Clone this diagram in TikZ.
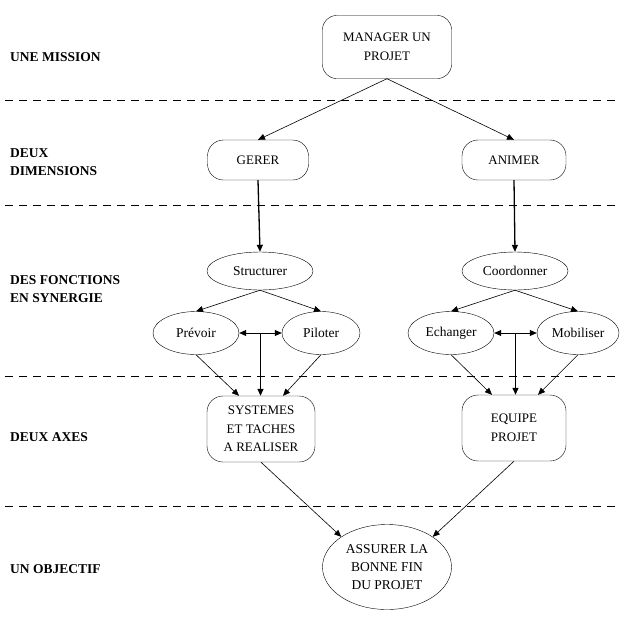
\documentclass[tikz,border=0pt]{standalone}
\usepackage{fontspec}
\setmainfont{Liberation Serif}
\usetikzlibrary{arrows.meta,shapes.geometric,calc}
\begin{document}
\begin{tikzpicture}[x=1pt,y=-1pt,
  box/.style={draw,rounded corners=14pt,align=center,inner sep=0pt,font=\fontsize{13}{18.5}\selectfont},
  ell/.style={draw,ellipse,inner sep=0pt,align=center,font=\fontsize{13.5}{18}\selectfont},
  lab/.style={anchor=west,align=left,inner sep=0pt,font=\fontsize{13.5}{18}\selectfont\bfseries},
  sep/.style={dashed,dash pattern=on 8pt off 6pt,line width=0.9pt},
  arr/.style={-{Triangle[length=7pt,width=6pt]},line width=0.6pt},
  thk/.style={-{Triangle[length=7pt,width=6pt]},line width=1.3pt},
  dbl/.style={{Triangle[length=7pt,width=6pt]}-{Triangle[length=7pt,width=6pt]},line width=0.8pt}]
\useasboundingbox (0,0) rectangle (624,622);
% separators
\foreach \yy/\nm in {100/s1,205/s2,376/s3,506/s4}{
  \coordinate (\nm a) at (5,\yy); \coordinate (\nm b) at (620,\yy);
  \draw[sep] (\nm a) -- (\nm b);}
% left labels
\node[lab] (l1) at (10,57) {UNE MISSION};
\node[lab] (l2) at (10,162) {DEUX\\DIMENSIONS};
\node[lab] (l3) at (10,289) {DES FONCTIONS\\EN SYNERGIE};
\node[lab] (l4) at (10,437) {DEUX AXES};
\node[lab] (l5) at (10,569) {UN OBJECTIF};
% nodes
\node[box,minimum width=129pt,minimum height=63pt] (mp) at (387,47) {MANAGER UN\\PROJET};
\node[box,rounded corners=16pt,minimum width=101pt,minimum height=40pt] (gerer) at (258,160) {GERER};
\node[box,rounded corners=16pt,minimum width=104pt,minimum height=40pt] (animer) at (514,160) {ANIMER};
\node[ell,minimum width=106pt,minimum height=38pt] (struct) at (260,271) {Structurer};
\node[ell,minimum width=106pt,minimum height=38pt] (coord) at (515,271) {Coordonner};
\node[ell,minimum width=86pt,minimum height=43pt] (prev) at (196,333) {Prévoir};
\node[ell,minimum width=78pt,minimum height=43pt] (pilot) at (321,333) {Piloter};
\node[ell,minimum width=86pt,minimum height=43pt] (ech) at (451,333) {Echanger};
\node[ell,minimum width=82pt,minimum height=43pt] (mob) at (578,333) {Mobiliser};
\node[box,rounded corners=16pt,minimum width=108pt,minimum height=66pt] (sys) at (261,429) {SYSTEMES\\ET TACHES\\A REALISER};
\node[box,rounded corners=16pt,minimum width=104pt,minimum height=66pt] (eq) at (514,428) {EQUIPE\\PROJET};
\node[ell,minimum width=129pt,minimum height=85pt] (ass) at (387,567) {ASSURER LA\\BONNE FIN\\DU PROJET};
% connectors
\draw[arr] (mp.south) -- (gerer.north);
\draw[arr] (mp.south) -- (animer.north);
\draw[thk] (gerer.south) -- (struct.north);
\draw[thk] (animer.south) -- (coord.north);
\draw[arr] (struct.south) -- (prev.north);
\draw[arr] (struct.south) -- (pilot.north);
\draw[arr] (coord.south) -- (ech.north);
\draw[arr] (coord.south) -- (mob.north);
\draw[dbl] (prev.east) -- (pilot.west);
\draw[dbl] (ech.east) -- (mob.west);
\coordinate (m1) at ($(prev.east)!0.5!(pilot.west)$);
\coordinate (m2) at ($(ech.east)!0.5!(mob.west)$);
\draw[thk] (m1) -- (m1 |- sys.north);
\draw[thk] (m2) -- (m2 |- eq.north);
\draw[arr] (prev.south) -- ([xshift=-22pt]sys.north);
\draw[arr] (pilot.south) -- ([xshift=22pt]sys.north);
\draw[arr] (ech.south) -- ([xshift=-22pt]eq.north);
\draw[arr] (mob.south) -- ([xshift=24pt]eq.north);
\draw[arr] (sys.south) -- (ass.north west);
\draw[arr] (eq.south) -- (ass.north east);
\end{tikzpicture}
\end{document}
